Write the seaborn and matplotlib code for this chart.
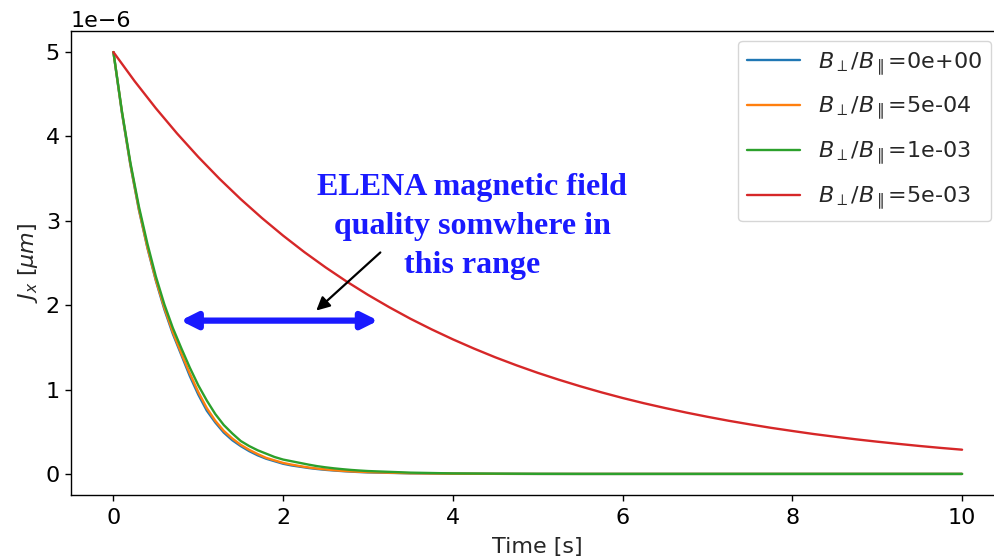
import numpy as np
import pandas as pd
import matplotlib
matplotlib.use("Agg")
import matplotlib.pyplot as plt
import seaborn as sns

# Emittance decay J_x(t) for several field-error ratios (values in units of 1e-6 um)
UNIT = 1e-6

t_fast = [0.0, 0.1, 0.2, 0.3, 0.4, 0.5, 0.6, 0.7, 0.8, 0.9,
          1.0, 1.1, 1.2, 1.3, 1.4, 1.5, 1.6, 1.7, 1.8, 1.9,
          2.0, 2.1, 2.2, 2.3, 2.4, 2.5, 2.6, 2.7, 2.8, 2.9,
          3.0, 3.5, 4.0, 4.5, 5.0, 5.5, 6.0, 6.5, 7.0, 7.5,
          8.0, 8.5, 9.0, 9.5, 10.0]

jx_0e00 = [5.00, 4.28, 3.66, 3.13, 2.68, 2.29, 1.95, 1.66, 1.41, 1.16,
           0.94, 0.75, 0.61, 0.49, 0.40, 0.33, 0.27, 0.22, 0.18, 0.15,
           0.12, 0.10, 0.085, 0.070, 0.058, 0.048, 0.040, 0.033, 0.027, 0.022,
           0.018, 0.007, 0.003, 0.001, 0.0, 0.0, 0.0, 0.0, 0.0, 0.0,
           0.0, 0.0, 0.0, 0.0, 0.0]

jx_5e04 = [5.00, 4.29, 3.67, 3.14, 2.69, 2.30, 1.97, 1.68, 1.43, 1.19,
           0.97, 0.78, 0.63, 0.51, 0.42, 0.345, 0.285, 0.235, 0.19, 0.16,
           0.13, 0.11, 0.092, 0.076, 0.063, 0.053, 0.044, 0.036, 0.030, 0.025,
           0.021, 0.008, 0.003, 0.001, 0.0, 0.0, 0.0, 0.0, 0.0, 0.0,
           0.0, 0.0, 0.0, 0.0, 0.0]

jx_1e03 = [5.00, 4.30, 3.69, 3.17, 2.73, 2.34, 2.01, 1.73, 1.49, 1.26,
           1.05, 0.87, 0.71, 0.58, 0.48, 0.39, 0.33, 0.28, 0.24, 0.20,
           0.17, 0.15, 0.13, 0.11, 0.092, 0.078, 0.066, 0.056, 0.047, 0.040,
           0.034, 0.015, 0.006, 0.003, 0.001, 0.0, 0.0, 0.0, 0.0, 0.0,
           0.0, 0.0, 0.0, 0.0, 0.0]

t_slow = [0.0, 0.25, 0.5, 0.75, 1.0, 1.25, 1.5, 1.75, 2.0, 2.25,
          2.5, 2.75, 3.0, 3.25, 3.5, 3.75, 4.0, 4.25, 4.5, 4.75,
          5.0, 5.25, 5.5, 5.75, 6.0, 6.25, 6.5, 6.75, 7.0, 7.25,
          7.5, 7.75, 8.0, 8.25, 8.5, 8.75, 9.0, 9.25, 9.5, 9.75, 10.0]

jx_5e03 = [5.000, 4.655, 4.334, 4.035, 3.757, 3.498, 3.257, 3.033, 2.824, 2.629,
           2.448, 2.279, 2.122, 1.976, 1.839, 1.713, 1.595, 1.485, 1.382, 1.287,
           1.198, 1.116, 1.039, 0.967, 0.900, 0.838, 0.781, 0.727, 0.677, 0.630,
           0.587, 0.546, 0.509, 0.473, 0.441, 0.410, 0.382, 0.356, 0.331, 0.308, 0.287]

labels = [r"$B_\perp/B_\parallel$=0e+00",
          r"$B_\perp/B_\parallel$=5e-04",
          r"$B_\perp/B_\parallel$=1e-03",
          r"$B_\perp/B_\parallel$=5e-03"]
colors = ["#1f77b4", "#ff7f0e", "#2ca02c", "#d62728"]

frames = []
for lab, tt, vv in zip(labels,
                       [t_fast, t_fast, t_fast, t_slow],
                       [jx_0e00, jx_5e04, jx_1e03, jx_5e03]):
    frames.append(pd.DataFrame({"t": tt, "jx": np.array(vv) * UNIT, "ratio": lab}))
df = pd.concat(frames, ignore_index=True)

sns.set_style("white")
plt.rcParams.update({
    "axes.edgecolor": "black",
    "axes.linewidth": 1.0,
    "xtick.bottom": True,
    "ytick.left": True,
    "xtick.color": "black",
    "ytick.color": "black",
    "font.family": ["DejaVu Sans"],
})

FS = 16
fig = plt.figure(figsize=(9.94, 5.58), dpi=100)
ax = fig.add_axes([71 / 994, 1 - 495 / 558, (1004.5 - 71) / 994, (495 - 31) / 558])

sns.lineplot(data=df, x="t", y="jx", hue="ratio", palette=colors,
             linewidth=1.7, ax=ax, legend=True, sort=True, estimator=None)

ax.set_xlim(-0.5, 10.5)
ax.set_ylim(-0.25 * UNIT, 5.25 * UNIT)
ax.set_xticks([0, 2, 4, 6, 8, 10])
ax.tick_params(labelsize=FS, length=4.5, width=1)
ax.tick_params(axis="x", pad=5)
ax.yaxis.get_offset_text().set_fontsize(FS)
ax.set_xlabel("Time [s]", fontsize=FS, labelpad=6)
ax.set_ylabel(r"$J_x$ [$\mu m$]", fontsize=FS)

leg = ax.legend(loc="upper right", bbox_to_anchor=(991 / 994, 1 - 41 / 558),
                bbox_transform=fig.transFigure, borderaxespad=0,
                fontsize=FS, handlelength=2.4, labelspacing=0.78,
                frameon=True, fancybox=True, title=None)
leg.get_frame().set_edgecolor("#cccccc")

# annotation: field-quality range
blue = "#1a1aff"
ax.annotate("", xy=(0.79, 1.817 * UNIT), xytext=(3.12, 1.817 * UNIT),
            arrowprops=dict(arrowstyle="<|-|>", color=blue, lw=4.5,
                            mutation_scale=24, shrinkA=0, shrinkB=0))
ax.annotate("", xy=(2.39, 1.936 * UNIT), xytext=(3.145, 2.625 * UNIT),
            arrowprops=dict(arrowstyle="-|>", color="black", lw=1.6,
                            mutation_scale=20, shrinkA=0, shrinkB=0))
ax.text(4.23, 2.93 * UNIT, "ELENA magnetic field\nquality somwhere in\nthis range",
        ha="center", va="center", multialignment="center", linespacing=1.45,
        color=blue, fontsize=23, fontweight="bold", family="Liberation Serif")

fig.savefig("out.png", dpi=100)
